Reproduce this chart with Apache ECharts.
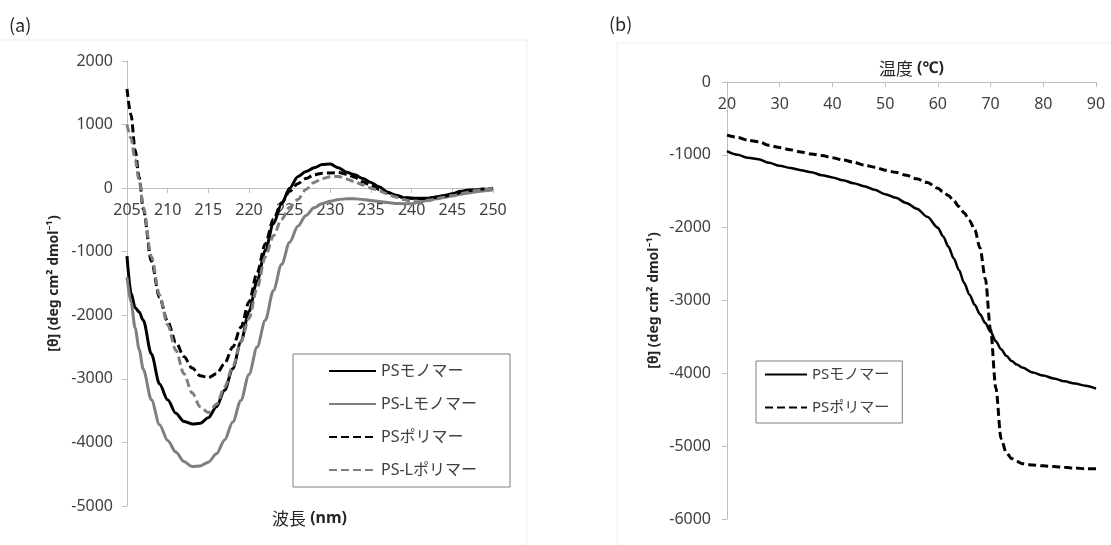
<!DOCTYPE html>
<html>
<head>
<meta charset="utf-8">
<script src="https://cdn.jsdelivr.net/npm/echarts@6/dist/echarts.min.js"></script>
<style>
html,body{margin:0;padding:0;background:#fff;}
#c{width:1111px;height:545px;}
</style>
</head>
<body>
<div id="c"></div>
<script>
// ---- Panel (a): CD spectra ----
const wavelength = [205,205.5,206,206.5,207,208,209,210,211,212,213,214,215,216,217,218,219,220,221,222,223,224,225,226,227,228,229,230,231,232,233,234,235,236,237,238,239,240,241,242,243,244,245,246,247,248,249,250];
const psMonomer = [-1070,-1650,-1880,-1950,-2080,-2610,-3080,-3330,-3540,-3670,-3710,-3700,-3610,-3440,-3180,-2840,-2420,-1940,-1460,-980,-560,-250,0,180,260,320,370,380,320,250,210,150,90,20,-60,-110,-150,-160,-160,-160,-140,-115,-90,-50,-30,-25,-25,-20];
const psLMonomer = [-1400,-1800,-2200,-2540,-2850,-3330,-3720,-3970,-4150,-4300,-4380,-4370,-4310,-4180,-3960,-3680,-3340,-2930,-2500,-2080,-1610,-1200,-850,-600,-430,-310,-240,-205,-180,-165,-165,-180,-195,-210,-225,-240,-245,-245,-220,-190,-165,-145,-120,-95,-75,-55,-40,-25];
const psPolymer = [1560,1150,600,170,-330,-1150,-1720,-2100,-2420,-2650,-2830,-2950,-2980,-2920,-2760,-2500,-2190,-1790,-1330,-880,-490,-230,-50,70,150,210,235,240,245,220,170,100,40,-20,-70,-110,-145,-160,-165,-160,-145,-125,-100,-70,-40,-25,-10,0];
const psLPolymer = [1000,780,450,120,-300,-1080,-1680,-2150,-2550,-2920,-3220,-3440,-3530,-3400,-3130,-2810,-2420,-2050,-1570,-1080,-750,-490,-300,-180,-20,90,150,180,185,145,100,50,0,-40,-90,-140,-180,-210,-215,-195,-170,-145,-120,-90,-65,-35,-15,0];
const namesA = ['PSモノマー','PS-Lモノマー','PSポリマー','PS-Lポリマー'];

// ---- Panel (b): thermal melting ----
const temperature = [20,22,24,26,28,30,32,34,36,38,40,42,44,46,48,50,52,54,56,58,60,61,62,63,64,65,66,67,68,69,70,71,72,73,74,75,76,78,80,82,84,86,88,90];
const psMonomerT = [-950,-1000,-1040,-1060,-1110,-1150,-1180,-1210,-1240,-1280,-1310,-1350,-1390,-1430,-1480,-1540,-1590,-1660,-1740,-1850,-2000,-2120,-2260,-2420,-2580,-2760,-2920,-3060,-3190,-3310,-3430,-3560,-3670,-3760,-3830,-3880,-3920,-3990,-4030,-4070,-4110,-4140,-4170,-4210];
const psPolymerT = [-730,-760,-800,-820,-870,-900,-930,-960,-990,-1010,-1040,-1070,-1100,-1140,-1170,-1210,-1240,-1280,-1330,-1380,-1460,-1510,-1560,-1630,-1710,-1800,-1900,-2030,-2280,-2700,-3400,-4200,-4900,-5090,-5170,-5210,-5240,-5260,-5270,-5280,-5290,-5300,-5310,-5310];
const namesB = ['PSモノマー','PSポリマー'];

const FONT = '"Noto Sans", "Noto Sans CJK JP", sans-serif';
const CJK = '"Noto Sans CJK JP", "Noto Sans", sans-serif';
const axisGray = '#bfbfbf';
const textGray = '#404040';
const yName = '[θ] (deg cm² dmol⁻¹)';
const plain = v => String(v);

function pairs(xs, ys){ return xs.map((x,i)=>[x, ys[i]]); }

const chart = echarts.init(document.getElementById('c'), null, {renderer:'canvas'});

// grid (a) geometry
const gA = {left:127, top:61, width:366, height:445};
const yMinA = -5000, yMaxA = 2000;
const zeroOffsetA = -gA.height * (0 - yMinA) / (yMaxA - yMinA); // move x-axis up to y=0

const dashed = [8,4];
const hiddenSymbol = {color:'rgba(0,0,0,0)', borderColor:'rgba(0,0,0,0)', borderWidth:0, opacity:0};
const option = {
  animation: false,
  textStyle: {fontFamily: FONT},
  grid: [
    gA,
    {left:727, top:82, width:369, height:437}
  ],
  xAxis: [
    {
      gridIndex:0, type:'value', min:205, max:250, interval:5, position:'bottom', offset:zeroOffsetA,
      axisLine:{show:true, onZero:false, lineStyle:{color:axisGray, width:1}},
      axisTick:{show:true, length:5, lineStyle:{color:axisGray}},
      axisLabel:{color:textGray, fontSize:16, margin:14, showMinLabel:true, showMaxLabel:true, fontFamily:FONT, formatter:plain},
      splitLine:{show:false}
    },
    {
      gridIndex:1, type:'value', min:20, max:90, interval:10, position:'top',
      axisLine:{show:true, onZero:false, lineStyle:{color:axisGray, width:1}},
      axisTick:{show:true, inside:true, length:5, lineStyle:{color:axisGray}},
      axisLabel:{inside:true, color:textGray, fontSize:16, margin:14, showMinLabel:true, showMaxLabel:true, fontFamily:FONT, formatter:plain},
      splitLine:{show:false},
      name:'{a|温度}{b| (℃)}', nameLocation:'middle', nameGap:5,
      nameTextStyle:{rich:{
        a:{fontFamily:CJK, fontSize:17, color:'#262626'},
        b:{fontFamily:FONT, fontSize:16, fontWeight:'bold', color:'#262626'}
      }}
    }
  ],
  yAxis: [
    {
      gridIndex:0, type:'value', min:yMinA, max:yMaxA, interval:1000,
      axisLine:{show:true, onZero:false, lineStyle:{color:axisGray, width:1}},
      axisTick:{show:true, length:5, lineStyle:{color:axisGray}},
      axisLabel:{color:textGray, fontSize:16, margin:14, fontFamily:FONT, formatter:plain},
      splitLine:{show:false},
      name:yName, nameLocation:'middle', nameGap:66, nameRotate:90,
      nameTextStyle:{fontFamily:FONT, fontSize:14, fontWeight:'bold', color:'#262626'}
    },
    {
      gridIndex:1, type:'value', min:-6000, max:0, interval:1000,
      axisLine:{show:true, onZero:false, lineStyle:{color:axisGray, width:1}},
      axisTick:{show:true, length:5, lineStyle:{color:axisGray}},
      axisLabel:{color:textGray, fontSize:16, margin:16, fontFamily:FONT, formatter:plain},
      splitLine:{show:false},
      name:yName, nameLocation:'middle', nameGap:66, nameRotate:90,
      nameTextStyle:{fontFamily:FONT, fontSize:14, fontWeight:'bold', color:'#262626'}
    }
  ],
  legend: [
    {
      data: namesA, orient:'vertical', left:293, top:354,
      padding:[9,33,9,35], itemWidth:47, itemHeight:16, itemGap:17,
      borderColor:'#7f7f7f', borderWidth:1, backgroundColor:'#fff',
      itemStyle: hiddenSymbol,
      textStyle:{fontSize:16, color:textGray, fontFamily:FONT},
      selectedMode:false
    },
    {
      data: namesB, orient:'vertical', left:756, top:361,
      padding:[6,13,8,8], itemWidth:42, itemHeight:16, itemGap:18,
      borderColor:'#7f7f7f', borderWidth:1, backgroundColor:'#fff',
      itemStyle: hiddenSymbol,
      textStyle:{fontSize:15, color:textGray, fontFamily:FONT},
      selectedMode:false
    }
  ],
  graphic: [
    {type:'rect', shape:{x:-1, y:40, width:528, height:510}, style:{fill:'none', stroke:'#eeeeee', lineWidth:1}, silent:true, z:-10},
    {type:'rect', shape:{x:617, y:43, width:500, height:510}, style:{fill:'none', stroke:'#eeeeee', lineWidth:1}, silent:true, z:-10},
    {type:'text', left:9, top:16, style:{text:'(a)', font:'18px ' + CJK, fill:'#262626'}},
    {type:'text', left:609, top:15, style:{text:'(b)', font:'18px ' + CJK, fill:'#262626'}},
    {type:'text', left:272, top:510, style:{
      text:'{a|波長}{b| (nm)}',
      rich:{
        a:{fontFamily:CJK, fontSize:17, fill:'#262626'},
        b:{fontFamily:FONT, fontSize:16, fontWeight:'bold', fill:'#262626'}
      }
    }}
  ],
  series: [
    {name:namesA[0], type:'line', xAxisIndex:0, yAxisIndex:0, data:pairs(wavelength, psMonomer), showSymbol:false, symbol:'none', smooth:0.3, smoothMonotone:'x', lineStyle:{color:'#000', width:3}, itemStyle:{color:'#000'}},
    {name:namesA[1], type:'line', xAxisIndex:0, yAxisIndex:0, data:pairs(wavelength, psLMonomer), showSymbol:false, symbol:'none', smooth:0.3, smoothMonotone:'x', lineStyle:{color:'#7f7f7f', width:3}, itemStyle:{color:'#7f7f7f'}},
    {name:namesA[2], type:'line', xAxisIndex:0, yAxisIndex:0, data:pairs(wavelength, psPolymer), showSymbol:false, symbol:'none', smooth:0.3, smoothMonotone:'x', lineStyle:{color:'#000', width:3, type:dashed}, itemStyle:{color:'#000'}},
    {name:namesA[3], type:'line', xAxisIndex:0, yAxisIndex:0, data:pairs(wavelength, psLPolymer), showSymbol:false, symbol:'none', smooth:0.3, smoothMonotone:'x', lineStyle:{color:'#7f7f7f', width:3, type:dashed}, itemStyle:{color:'#7f7f7f'}},
    {name:namesB[0], type:'line', xAxisIndex:1, yAxisIndex:1, data:pairs(temperature, psMonomerT), showSymbol:false, symbol:'none', smooth:0.3, smoothMonotone:'x', lineStyle:{color:'#000', width:2.5}, itemStyle:{color:'#000'}},
    {name:namesB[1], type:'line', xAxisIndex:1, yAxisIndex:1, data:pairs(temperature, psPolymerT), showSymbol:false, symbol:'none', smooth:0.3, smoothMonotone:'x', lineStyle:{color:'#000', width:3, type:dashed}, itemStyle:{color:'#000'}}
  ]
};
chart.setOption(option);
</script>
</body>
</html>
